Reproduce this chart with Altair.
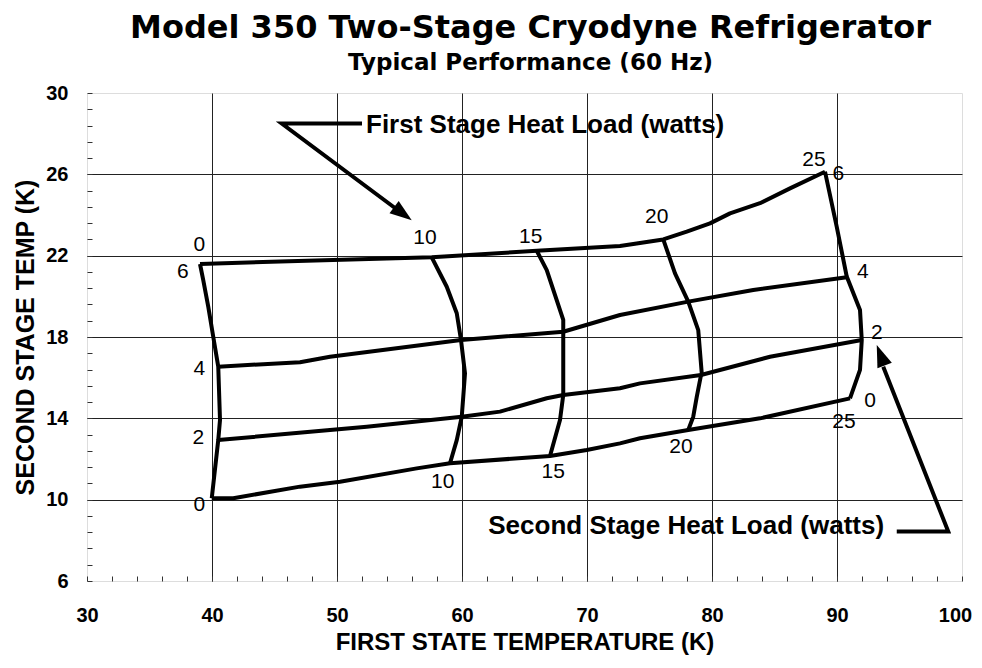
import altair as alt
import pandas as pd

# ---- constant second-stage-load curves (watts) ----
s2_0_x = [39.98, 41.70, 47.04, 50.24, 56.38, 59.04, 67.04, 69.98, 72.64, 74.24, 78.10, 83.84, 91.04]
s2_0_y = [10.07, 10.07, 10.64, 10.88, 11.54, 11.79, 12.15, 12.44, 12.77, 13.02, 13.43, 14.00, 14.98]
s2_2_x = [40.50, 49.44, 52.38, 59.98, 63.04, 66.78, 68.10, 72.64, 74.24, 79.12, 84.64, 91.98]
s2_2_y = [12.93, 13.43, 13.59, 14.08, 14.33, 14.99, 15.15, 15.48, 15.72, 16.13, 17.03, 17.85]
s2_4_x = [40.50, 47.04, 49.44, 59.92, 68.10, 72.64, 78.10, 83.30, 90.78]
s2_4_y = [16.54, 16.76, 17.03, 17.85, 18.26, 19.08, 19.74, 20.31, 20.94]
s2_6_x = [39.04, 49.68, 57.58, 65.98, 72.64, 76.10, 77.98, 79.84, 81.44, 83.84, 86.24, 89.04]
s2_6_y = [21.59, 21.79, 21.92, 22.24, 22.48, 22.80, 23.18, 23.59, 24.08, 24.58, 25.31, 26.13]

# ---- constant first-stage-load curves (watts) ----
s1_0_x = [39.04, 39.30, 39.70, 40.10, 40.50, 40.64, 40.50, 39.98]
s1_0_y = [21.59, 20.80, 19.49, 18.01, 16.54, 13.92, 12.93, 10.07]
s1_10_x = [57.58, 58.78, 59.58, 59.92, 60.24, 60.10, 59.98, 59.58, 59.04]
s1_10_y = [21.92, 20.47, 19.17, 17.85, 16.21, 15.06, 14.08, 12.93, 11.79]
s1_15_x = [65.98, 66.78, 68.10, 68.10, 68.10, 67.84, 67.04]
s1_15_y = [22.24, 21.29, 18.84, 18.26, 15.15, 13.92, 12.15]
s1_20_x = [76.10, 77.04, 78.10, 78.90, 79.18, 79.12, 78.78, 78.50, 78.10]
s1_20_y = [22.80, 21.13, 19.74, 18.34, 16.21, 16.13, 15.06, 14.08, 13.43]
s1_25_x = [89.04, 89.98, 90.78, 91.84, 91.98, 91.84, 91.04]
s1_25_y = [26.13, 23.42, 20.97, 19.33, 17.85, 16.38, 14.98]

curves = {
    "s2_0": (s2_0_x, s2_0_y), "s2_2": (s2_2_x, s2_2_y),
    "s2_4": (s2_4_x, s2_4_y), "s2_6": (s2_6_x, s2_6_y),
    "s1_0": (s1_0_x, s1_0_y), "s1_10": (s1_10_x, s1_10_y),
    "s1_15": (s1_15_x, s1_15_y), "s1_20": (s1_20_x, s1_20_y),
    "s1_25": (s1_25_x, s1_25_y),
}

# ---- curve labels ----
label_text = ["0", "6", "4", "2", "0", "10", "15", "20", "25", "6", "4", "2", "0", "25", "20", "10", "15"]
label_x = [38.98, 37.66, 38.98, 38.90, 38.98, 57.04, 65.50, 75.58, 88.16, 90.10, 92.06, 93.18, 92.64, 90.56, 77.52, 58.46, 67.30]
label_y = [22.52, 21.21, 16.41, 13.02, 9.74, 22.85, 22.93, 23.92, 26.70, 26.02, 21.21, 18.18, 14.87, 13.83, 12.58, 10.88, 11.38]

# ---- annotations ----
note_text = ["First Stage Heat Load (watts)", "Second Stage Heat Load (watts)"]
note_x = [52.32, 62.10]
note_y = [28.03, 8.31]

arrow1_x = [52.0, 45.58, 55.04]
arrow1_y = [28.50, 28.50, 24.16]
arrow2_x = [94.78, 98.90, 93.70]
arrow2_y = [8.43, 8.43, 16.54]
head_x = [55.98, 93.18]
head_y = [23.74, 17.61]
head_angle = [126.6, 339.0]

x_ticks = [30, 32, 34, 36, 38, 40, 42, 44, 46, 48, 50, 52, 54, 56, 58, 60, 62, 64, 66, 68,
           70, 72, 74, 76, 78, 80, 82, 84, 86, 88, 90, 92, 94, 96, 98, 100]
y_ticks = [6, 6.8, 7.6, 8.4, 9.2, 10, 10.8, 11.6, 12.4, 13.2, 14, 14.8, 15.6, 16.4, 17.2, 18,
           18.8, 19.6, 20.4, 21.2, 22, 22.8, 23.6, 24.4, 25.2, 26, 26.8, 27.6, 28.4, 29.2, 30]

# ---- tables ----
rows = []
for name, (xs, ys) in curves.items():
    for i, (a, b) in enumerate(zip(xs, ys)):
        rows.append({"curve": name, "i": i, "x": a, "y": b})
curve_df = pd.DataFrame(rows)

arows = []
for name, (xs, ys) in {"a1": (arrow1_x, arrow1_y), "a2": (arrow2_x, arrow2_y)}.items():
    for i, (a, b) in enumerate(zip(xs, ys)):
        arows.append({"curve": name, "i": i, "x": a, "y": b})
arrow_df = pd.DataFrame(arows)
head_df = pd.DataFrame({"x": head_x, "y": head_y, "angle": head_angle})
label_df = pd.DataFrame({"x": label_x, "y": label_y, "t": label_text})
note_df = pd.DataFrame({"x": note_x, "y": note_y, "t": note_text})

FONT = "Liberation Sans"

x_axis = alt.Axis(
    values=x_ticks,
    labelExpr="datum.value % 10 === 0 ? format(datum.value, 'd') : ''",
    grid=True, gridColor="#222", gridWidth=1,
    gridOpacity={"condition": {"test": "datum.value % 10 === 0 && datum.value > 30 && datum.value < 100", "value": 1}, "value": 0},
    domain=False, ticks=True, tickSize=5, tickColor="#333", tickWidth=1, offset=-5,
    labelPadding=24, labelFont=FONT, labelFontSize=20, labelFontWeight="bold", labelColor="black",
    labelFlush=False, labelOverlap=False,
    labelOffset={"condition": {"test": "datum.value === 100", "value": -7}, "value": 0},
    title="FIRST STATE TEMPERATURE (K)", titleFont=FONT, titleFontSize=24, titleFontWeight="bold",
    titleColor="black", titleBaseline="alphabetic", titleY=73,
)
y_axis = alt.Axis(
    values=y_ticks,
    labelExpr="datum.value % 4 === 2 ? format(datum.value, 'd') : ''",
    grid=True, gridColor="#222", gridWidth=1,
    gridOpacity={"condition": {"test": "datum.value % 4 === 2 && datum.value > 6 && datum.value < 30", "value": 1}, "value": 0},
    domain=False, ticks=True, tickSize=5, tickColor="#333", tickWidth=1, offset=-5,
    labelPadding=19, labelFont=FONT, labelFontSize=20, labelFontWeight="bold", labelColor="black",
    labelFlush=False, labelOverlap=False,
    title="SECOND STAGE TEMP (K)", titleFont=FONT, titleFontSize=25, titleFontWeight="bold",
    titleColor="black", titleBaseline="alphabetic", titleX=-59,
)
xs = alt.Scale(domain=[30, 100], nice=False, zero=False)
ys = alt.Scale(domain=[6, 30], nice=False, zero=False)
X = alt.X("x:Q", scale=xs, axis=x_axis)
Y = alt.Y("y:Q", scale=ys, axis=y_axis)

lines = alt.Chart(curve_df).mark_line(color="black", strokeWidth=4, strokeJoin="round").encode(
    x=X, y=Y, detail="curve:N", order="i:Q")
arrows = alt.Chart(arrow_df).mark_line(color="black", strokeWidth=4, strokeJoin="miter").encode(
    x=X, y=Y, detail="curve:N", order="i:Q")
heads = alt.Chart(head_df).mark_point(
    shape="M0,0L0.7,2L-0.7,2Z", filled=True, color="black", opacity=1, size=484, strokeWidth=0
).encode(x=X, y=Y, angle=alt.Angle("angle:Q", scale=None))
labels = alt.Chart(label_df).mark_text(font=FONT, fontSize=21, color="black", align="center", baseline="middle").encode(
    x=X, y=Y, text="t:N")
notes = alt.Chart(note_df).mark_text(font=FONT, fontSize=26, fontWeight="bold", color="black", align="left", baseline="alphabetic").encode(
    x=X, y=Y, text="t:N")

chart = alt.layer(lines, arrows, heads, labels, notes).properties(
    width=875, height=488,
    padding={"left": 79, "top": 85, "right": 12, "bottom": 74},
    autosize=alt.AutoSizeParams(type="none"),
    title=alt.TitleParams(
        text="Model 350 Two-Stage Cryodyne Refrigerator",
        subtitle="Typical Performance (60 Hz)",
        font="DejaVu Sans", fontSize=32, fontWeight="bold", color="black",
        subtitleFont="DejaVu Sans", subtitleFontSize=23, subtitleFontWeight="bold", subtitleColor="black",
        subtitlePadding=7, anchor="middle", dx=6, offset=7,
    ),
).configure_view(stroke="#555", strokeWidth=1).configure(background="white")

chart.save("out.html", embed_options={"renderer": "svg", "actions": False})
